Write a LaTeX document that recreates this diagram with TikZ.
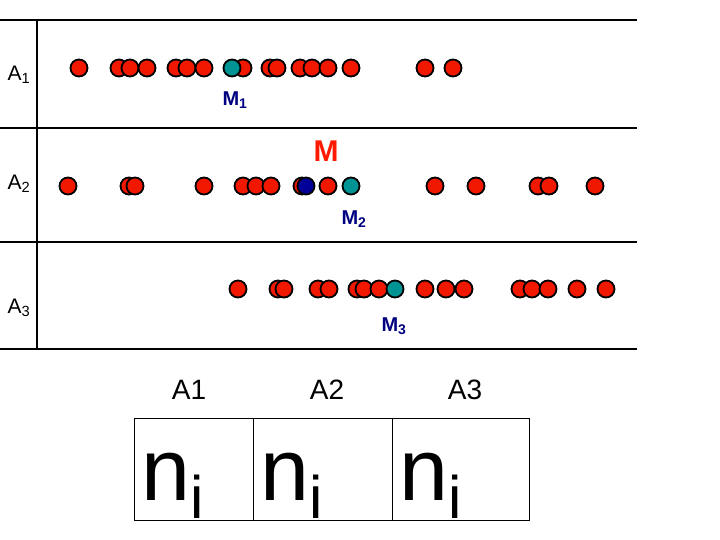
\documentclass[tikz,border=0pt]{standalone}
\usepackage{fontspec}
\setmainfont{Liberation Sans}
\begin{document}
\begin{tikzpicture}[x=1pt,y=-1pt,
 dot/.style={circle,draw=black,line width=1.8pt,inner sep=0pt,minimum size=17pt},
 rd/.style={dot,fill=red!80!orange!95!black},
 tl/.style={dot,fill=teal!85!cyan},
 bl/.style={dot,fill=blue!60!black},
 lab/.style={font=\fontsize{21}{23}\selectfont},
 mlab/.style={font=\bfseries\fontsize{20}{22}\selectfont,text=blue!50!black}]
\useasboundingbox (0,0) rectangle (720,540);
\draw[line width=1.2pt] (0,20) -- (637,20) (0,128) -- (637,128) (0,242) -- (637,242) (0,349) -- (637,349) (37,20) -- (37,349);
\node[lab] (a1) at (19,75) {A\textsubscript{1}};
\node[lab] (a2) at (19,184) {A\textsubscript{2}};
\node[lab] (a3) at (19,308) {A\textsubscript{3}};
\foreach \x [count=\i] in {79,119,130,147,176,187,204,243,270,277,300,312,328,351,425,453} \node[rd] (r1-\i) at (\x,68) {};
\node[tl] (m1) at (232,68) {};
\foreach \x [count=\i] in {68,129,135,204,243,256,271,302,328,435,476,538,549,595} \node[rd] (r2-\i) at (\x,186) {};
\node[bl] (m) at (306,186) {};
\node[tl] (m2) at (351,186) {};
\foreach \x [count=\i] in {238,278,284,318,329,357,364,379,425,446,464,520,532,548,577,606} \node[rd] (r3-\i) at (\x,289) {};
\node[tl] (m3) at (395,289) {};
\node[mlab] (l1) at (235,100) {M\textsubscript{1}};
\node[font=\bfseries\fontsize{30}{32}\selectfont,text=red!80!orange] (lm) at (326,151) {M};
\node[mlab] (l2) at (354,219) {M\textsubscript{2}};
\node[mlab] (l3) at (394,326) {M\textsubscript{3}};
\node[font=\fontsize{28}{30}\selectfont] (h1) at (189,390) {A1};
\node[font=\fontsize{28}{30}\selectfont] (h2) at (327,390) {A2};
\node[font=\fontsize{28}{30}\selectfont] (h3) at (465,390) {A3};
\draw[line width=0.6pt] (134,418) rectangle (529,520) (253,418) -- (253,520) (392,418) -- (392,520);
\foreach \x/\n in {141/c1,260/c2,399/c3} \node[font=\fontsize{88}{90}\selectfont,anchor=base west,inner sep=0pt] (\n) at (\x,500) {n\raisebox{-18pt}{\fontsize{60}{62}\selectfont i}};
\end{tikzpicture}
\end{document}
